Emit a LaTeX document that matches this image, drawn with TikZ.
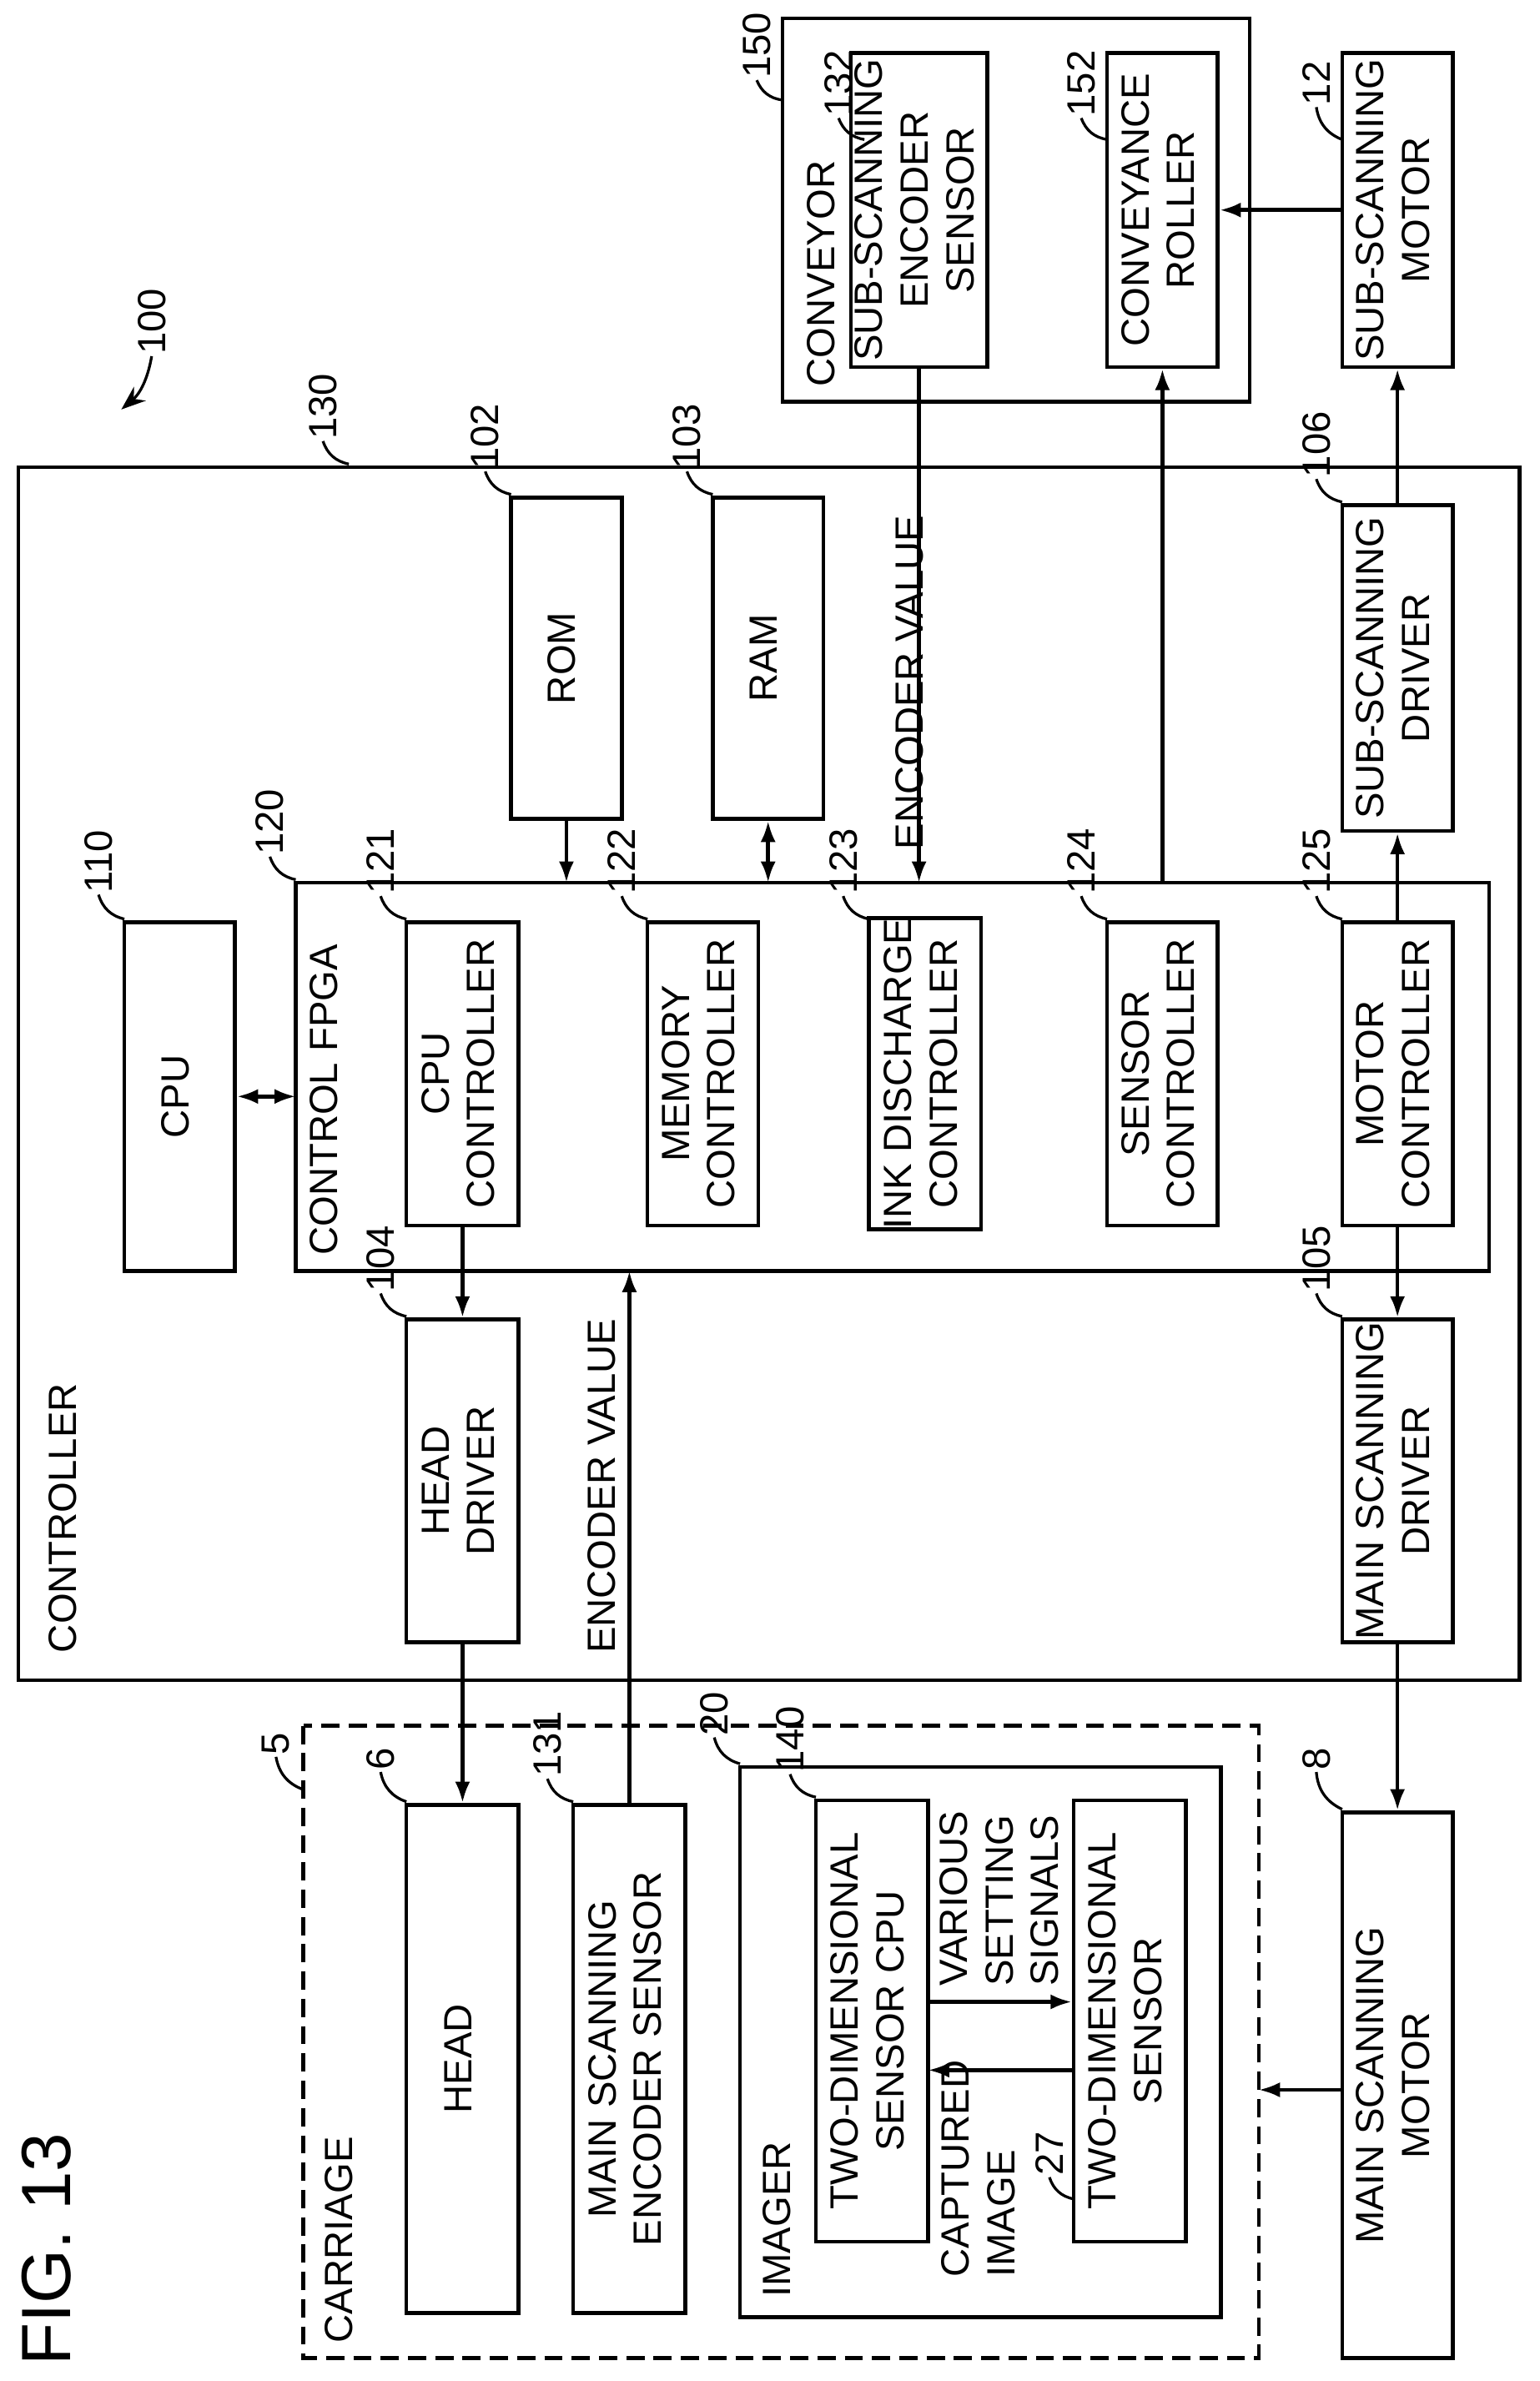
\documentclass[tikz,border=0pt]{standalone}
\usepackage{fontspec}
\setmainfont{Liberation Sans}
\usetikzlibrary{arrows.meta}
\newcommand\bx[6]{\node[box,minimum width={(#4-#2)*1pt},minimum height={(#5-#3)*1pt}] (#1) at ({(#2+#4)/2},{(#3+#5)/2}) {\rotatebox{90}{\begin{tabular}{@{}c@{}}#6\end{tabular}}};}
\newcommand\rn[6]{\node[rnum] (#1) at (#2,#3) {\rotatebox{90}{#4}}; \draw[lead] (#1.south) to[bend right=30] (#5,#6);}
\begin{document}
\begin{tikzpicture}[x=1pt,y=-1pt,
  every node/.style={font=\fontsize{26}{30}\selectfont},
  box/.style={draw,line width=2.5pt,inner sep=0pt},
  rnum/.style={inner sep=1pt},
  lead/.style={line width=1.8pt},
  ar/.style={line width=2.5pt,-{Latex[length=14pt,width=10pt]}},
  dar/.style={line width=2.5pt,{Latex[length=14pt,width=10pt]}-{Latex[length=14pt,width=10pt]}}]
\useasboundingbox (0,0) rectangle (1015,1570);
% containers
\draw[line width=2.5pt] (12,308) rectangle (1002,1108);
\node[anchor=south west,inner sep=0] (lctl) at (32,1090) {\rotatebox{90}{CONTROLLER}};
\draw[line width=2.5pt] (195,582) rectangle (982,838);
\node[anchor=south west,inner sep=0] (lfpga) at (204,828) {\rotatebox{90}{CONTROL FPGA}};
\draw[line width=2.5pt,dash pattern=on 12pt off 6pt] (200,1138) rectangle (830,1555);
\node[anchor=south west,inner sep=0] (lcar) at (214,1545) {\rotatebox{90}{CARRIAGE}};
\draw[line width=2.5pt] (488,1165) rectangle (805,1528);
\node[anchor=south west,inner sep=0] (limg) at (503,1515) {\rotatebox{90}{IMAGER}};
\draw[line width=2.5pt] (516,12) rectangle (824,265);
\node[anchor=south west,inner sep=0] (lcon) at (532,255) {\rotatebox{90}{CONVEYOR}};
\node[anchor=south west,inner sep=0,font=\fontsize{46}{50}\selectfont] (fig) at (14,1560) {\rotatebox{90}{FIG. 13}};
% boxes
\bx{cpu}{82}{608}{155}{838}{CPU}
\bx{c121}{268}{608}{342}{808}{CPU\\CONTROLLER}
\bx{c122}{427}{608}{500}{808}{MEMORY\\CONTROLLER}
\bx{c123}{573}{608}{647}{808}{INK DISCHARGE\\CONTROLLER}
\bx{c124}{730}{608}{803}{808}{SENSOR\\CONTROLLER}
\bx{c125}{885}{608}{958}{808}{MOTOR\\CONTROLLER}
\bx{rom}{337}{328}{410}{540}{ROM}
\bx{ram}{470}{328}{543}{540}{RAM}
\bx{d106}{885}{333}{958}{548}{SUB-SCANNING\\DRIVER}
\bx{d104}{268}{870}{342}{1083}{HEAD\\DRIVER}
\bx{d105}{885}{870}{958}{1083}{MAIN SCANNING\\DRIVER}
\bx{head}{268}{1190}{342}{1525}{HEAD}
\bx{s131}{378}{1190}{452}{1525}{MAIN SCANNING\\ENCODER SENSOR}
\bx{s140}{538}{1187}{612}{1478}{TWO-DIMENSIONAL\\SENSOR CPU}
\bx{s27}{708}{1187}{782}{1478}{TWO-DIMENSIONAL\\SENSOR}
\bx{m8}{885}{1195}{958}{1555}{MAIN SCANNING\\MOTOR}
\bx{s132}{570}{35}{642}{242}{SUB-SCANNING\\ENCODER\\SENSOR}
\bx{r152}{730}{35}{803}{242}{CONVEYANCE\\ROLLER}
\bx{m12}{885}{35}{958}{242}{SUB-SCANNING\\MOTOR}
% reference numbers
\rn{n110}{65}{568}{110}{82}{606}
\rn{n120}{178}{542}{120}{195}{580}
\rn{n121}{251}{568}{121}{268}{606}
\rn{n122}{410}{568}{122}{427}{606}
\rn{n123}{556}{568}{123}{573}{606}
\rn{n124}{713}{568}{124}{730}{606}
\rn{n125}{868}{568}{125}{885}{606}
\rn{n102}{320}{288}{102}{337}{326}
\rn{n103}{453}{288}{103}{470}{326}
\rn{n106}{868}{293}{106}{885}{331}
\rn{n104}{251}{830}{104}{268}{868}
\rn{n105}{868}{830}{105}{885}{868}
\rn{n6}{251}{1160}{6}{268}{1188}
\rn{n131}{361}{1150}{131}{378}{1188}
\rn{n20}{471}{1130}{20}{488}{1163}
\rn{n140}{521}{1147}{140}{538}{1185}
\rn{n8}{868}{1160}{8}{885}{1193}
\rn{n27}{692}{1420}{27}{708}{1450}
\rn{n5}{182}{1150}{5}{200}{1180}
\rn{n130}{213}{268}{130}{230}{306}
\rn{n150}{499}{30}{150}{516}{66}
\rn{n132}{553}{55}{132}{570}{92}
\rn{n152}{713}{55}{152}{730}{92}
\rn{n12}{868}{55}{12}{885}{92}
\node[rnum] (n100) at (100,212) {\rotatebox{90}{100}};
\coordinate (p100) at (80,270);
\draw[line width=1.8pt,-{Stealth[length=16pt,width=12pt]}] (n100.south) to[bend left=20] (p100);
% connectors
\coordinate (fpgaTop) at (400,582);
\coordinate (fpgaBot) at (400,838);
\draw[dar] (cpu.east) -- (cpu.east -| 195,0);
\draw[ar] (rom.south) -- (rom.south |- fpgaTop);
\draw[dar] (ram.south) -- (ram.south |- fpgaTop);
\draw[ar] (s132.south) -- (s132.south |- fpgaTop);
\node (ev1) at (600,450) {\rotatebox{90}{ENCODER VALUE}};
\draw[ar] (r152.south |- fpgaTop) -- (r152.south);
\draw[ar] (c125.north) -- (d106.south);
\draw[ar] (d106.north) -- (m12.south);
\draw[ar] (m12.west) -- (r152.east);
\draw[ar] (c121.south) -- (d104.north);
\draw[ar] (s131.north) -- (s131.north |- fpgaBot);
\node (ev2) at (397,980) {\rotatebox{90}{ENCODER VALUE}};
\draw[ar] (d104.south) -- (head.north);
\draw[ar] (c125.south) -- (d105.north);
\draw[ar] (d105.south) -- (m8.north);
\coordinate (carR) at (830,1378);
\draw[ar] (m8.west |- carR) -- (carR);
\coordinate (a1) at (612,1320);
\coordinate (a2) at (612,1365);
\draw[ar] (a1) -- (a1 -| s27.west);
\draw[ar] (a2 -| s27.west) -- (a2);
\node (vss) at (662,1252) {\rotatebox{90}{\begin{tabular}{@{}l@{}}VARIOUS\\SETTING\\SIGNALS\end{tabular}}};
\node (cap) at (648,1430) {\rotatebox{90}{\begin{tabular}{@{}l@{}}CAPTURED\\IMAGE\end{tabular}}};
\end{tikzpicture}
\end{document}
